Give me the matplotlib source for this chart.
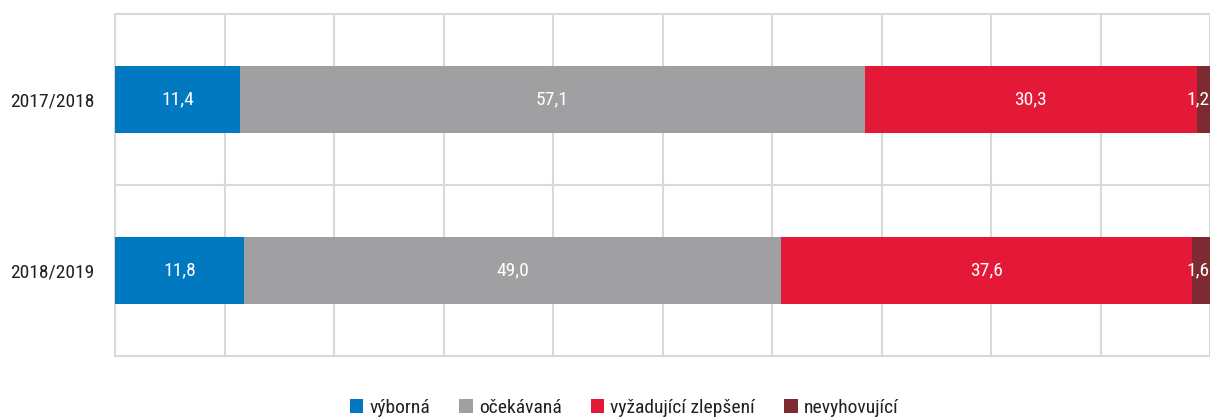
import matplotlib
matplotlib.use("Agg")
import matplotlib.pyplot as plt
from matplotlib import font_manager
from matplotlib.patches import Patch
import numpy as np

names = set(f.name for f in font_manager.fontManager.ttflist)
for cand in ["Liberation Sans Narrow", "Roboto Condensed", "Open Sans Condensed",
             "DejaVu Sans Condensed"]:
    if cand in names:
        plt.rcParams['font.family'] = [cand, 'DejaVu Sans']
        break

years = ["2017/2018", "2018/2019"]
categories = ["výborná", "očekávaná", "vyžadující zlepšení", "nevyhovující"]
values = {
    "výborná": [11.4, 11.8],
    "očekávaná": [57.1, 49.0],
    "vyžadující zlepšení": [30.3, 37.6],
    "nevyhovující": [1.2, 1.6],
}
colors = ["#0079c1", "#a0a0a3", "#e41937", "#7d2a33"]
labels = {
    "výborná": ["11,4", "11,8"],
    "očekávaná": ["57,1", "49,0"],
    "vyžadující zlepšení": ["30,3", "37,6"],
    "nevyhovující": ["1,2", "1,6"],
}

fig = plt.figure(figsize=(12.10, 4.18), dpi=100)
ax = fig.add_axes([115 / 1210, 1 - 356 / 418, 1 - 115 / 1210, 342 / 418])

y = np.arange(len(years))
left = np.zeros(len(years))
for cat, col in zip(categories, colors):
    vals = np.array(values[cat])
    ax.barh(y, vals, left=left, height=0.39, color=col, zorder=3)
    for i, (v, lab) in enumerate(zip(vals, labels[cat])):
        if v < 3:
            ax.text(left[i] + v, y[i], lab, ha="right", va="center",
                    color="white", fontsize=14, zorder=4)
        else:
            ax.text(left[i] + v / 2, y[i], lab, ha="center", va="center",
                    color="white", fontsize=14, zorder=4)
    left += vals

ax.set_xlim(0, 100)
ax.set_ylim(1.5, -0.5)
ax.set_xticks(np.arange(0, 101, 10))
ax.set_xticklabels([])
ax.set_yticks(y)
ax.set_yticklabels(years, fontsize=14, color="#231f20")
ax.set_yticks([0.5], minor=True)
ax.tick_params(axis="both", which="both", length=0)
ax.tick_params(axis="y", pad=15)
ax.grid(axis="x", color="#d9d9d9", linewidth=1.5, zorder=0)
ax.grid(axis="y", which="minor", color="#d9d9d9", linewidth=1.5, zorder=0)
for s in ["top", "bottom", "left"]:
    ax.spines[s].set_color("#d9d9d9")
    ax.spines[s].set_linewidth(1.5)
ax.spines["right"].set_visible(False)

handles = [Patch(facecolor=c, edgecolor="none") for c in colors]
fig.legend(handles, categories, loc="center", bbox_to_anchor=(624 / 1210, 1 - 408 / 418),
           ncol=4, frameon=False, fontsize=14, handlelength=0.7, handleheight=0.7,
           handletextpad=0.3, columnspacing=1.5, labelcolor="#231f20")

fig.savefig("out.png", dpi=100)
